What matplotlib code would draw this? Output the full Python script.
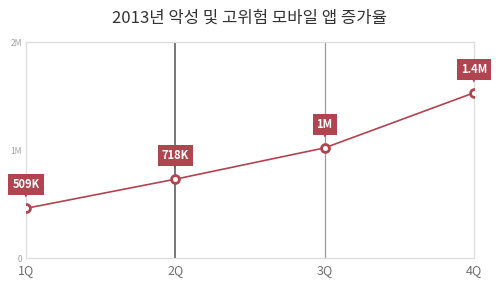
import matplotlib.pyplot as plt

plt.rcParams['font.family'] = ['Noto Sans CJK KR', 'DejaVu Sans']

quarters = ['1Q', '2Q', '3Q', '4Q']
installs = [460000, 730000, 1020000, 1530000]
point_labels = ['509K', '718K', '1M', '1.4M']
y_ticks = [0, 1000000, 2000000]
y_tick_labels = ['0', '1M', '2M']

red = '#b0444f'

fig = plt.figure(figsize=(5, 2.84), dpi=100)
fig.patch.set_facecolor('white')
ax = fig.add_axes([0.052, 0.0915, 0.896, 0.7605])

x = list(range(len(quarters)))

# quarter separators
ax.axvline(1, color='#767676', linewidth=1.4, zorder=1)
ax.axvline(2, color='#9a9a9a', linewidth=0.9, zorder=1)

ax.plot(x, installs, color=red, linewidth=1.2, zorder=3)
ax.scatter(x, installs, s=32, facecolor='white', edgecolor=red,
           linewidth=2.0, zorder=4)

for xi, v, lab in zip(x, installs, point_labels):
    ax.annotate(lab, xy=(xi, v), xytext=(0, 17), textcoords='offset points',
                ha='center', va='center', fontsize=8, fontweight='bold',
                color='white', zorder=5,
                bbox=dict(boxstyle='square,pad=0.35', facecolor=red,
                          edgecolor='none'))
    ax.annotate('▼', xy=(xi, v), xytext=(0, 9.5), textcoords='offset points',
                ha='center', va='center', fontsize=3.5, color=red,
                family='DejaVu Sans', zorder=5)

ax.set_xlim(0, 3)
ax.set_ylim(0, 2000000)
ax.set_xticks(x)
ax.set_xticklabels(quarters, fontsize=9, color='#707070')
ax.set_yticks(y_ticks)
ax.set_yticklabels(y_tick_labels, fontsize=6, color='#a0a0a0')
ax.tick_params(length=0, pad=3)
ax.tick_params(axis='x', pad=4)

for s in ax.spines.values():
    s.set_color('#dddddd')
    s.set_linewidth(0.9)

fig.text(0.5, 0.935, '2013년 악성 및 고위험 모바일 앱 증가율',
         ha='center', va='center', fontsize=12, color='#333333')

plt.savefig('out.png', dpi=100, facecolor='white')
